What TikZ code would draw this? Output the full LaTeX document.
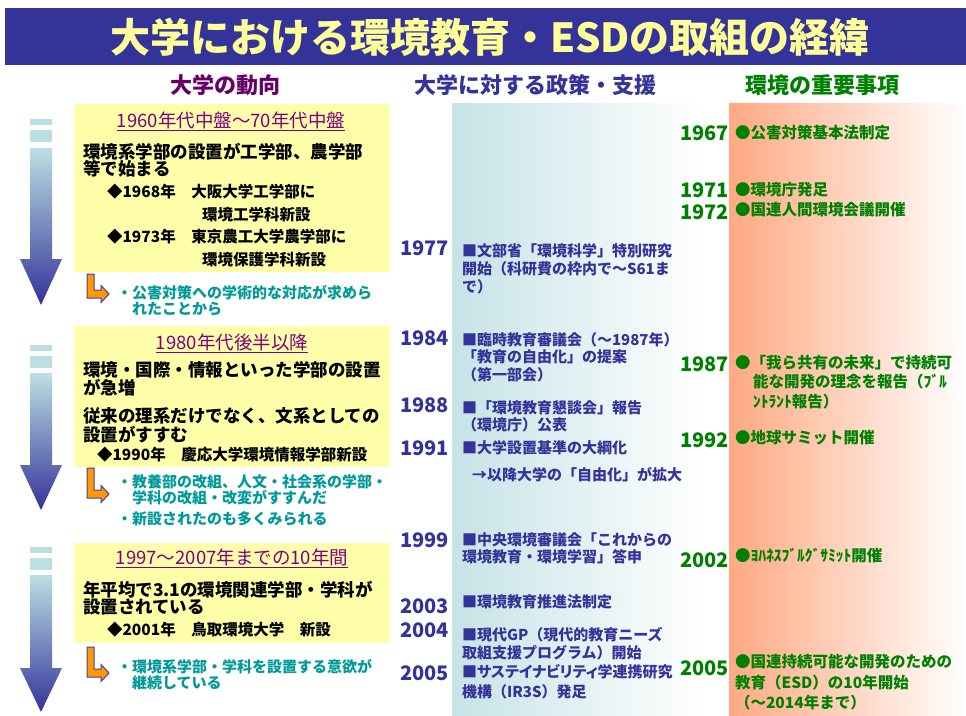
\documentclass[tikz,border=0pt]{standalone}
\usepackage{fontspec}
\setmainfont{Noto Sans CJK JP}
\usepackage{xcolor}
\usepackage{tikz}
\definecolor{titlebg}{HTML}{333399}
\definecolor{titletext}{HTML}{FFFF99}
\definecolor{trendpurple}{HTML}{660066}
\definecolor{periodpurple}{HTML}{800080}
\definecolor{policyblue}{HTML}{333399}
\definecolor{eventgreen}{HTML}{008000}
\definecolor{noteteal}{HTML}{009999}
\definecolor{boxyellow}{HTML}{FFFFAA}
\definecolor{policyshade}{HTML}{C6E3E6}
\definecolor{eventshade}{HTML}{FFA982}
\definecolor{arrowtop}{HTML}{BCDFE3}
\definecolor{arrowbot}{HTML}{333399}
\definecolor{turnorange}{HTML}{FF9900}
\definecolor{turnedge}{HTML}{4040A0}

\begin{document}
\begin{tikzpicture}[
  x=1pt,
  y=-1pt,
  every node/.style={inner sep=0pt, outer sep=0pt},
  banner/.style={text=titletext, font=\bfseries\fontsize{40}{40}\selectfont},
  colhead/.style={font=\bfseries\fontsize{22}{22}\selectfont},
  period/.style={text=periodpurple, font=\fontsize{18.5}{18.5}\selectfont},
  body/.style={anchor=north west, align=left, font=\bfseries\fontsize{17.5}{#1}\selectfont},
  body/.default=17,
  item/.style={anchor=north west, align=left, font=\bfseries\fontsize{15.5}{23}\selectfont},
  note/.style={anchor=north west, align=left, text=noteteal, font=\bfseries\fontsize{15}{#1}\selectfont},
  note/.default=16,
  year/.style={anchor=west, font=\bfseries\fontsize{20}{20}\selectfont},
  policy/.style={anchor=north west, align=left, text=policyblue, font=\bfseries\fontsize{15}{#1}\selectfont},
  policy/.default=18,
  event/.style={anchor=north west, align=left, text=eventgreen, font=\bfseries\fontsize{15.5}{#1}\selectfont},
  event/.default=19,
  yellowbox/.style={fill=boxyellow},
  dashbar/.style={fill=arrowtop},
  downarrow/.style={top color=arrowtop, bottom color=arrowbot},
  turn/.style={fill=turnorange, draw=turnedge, line width=1pt}
]
\useasboundingbox (0,0) rectangle (966,715);
\fill[titlebg] (5,8) rectangle (966,65);
\node[banner] (title) at (490,37) {大学における環境教育・ESDの取組の経緯};

\node[colhead, text=trendpurple] (headtrend) at (225,85) {大学の動向};
\node[colhead, text=policyblue] (headpolicy) at (535,85) {大学に対する政策・支援};
\node[colhead, text=eventgreen] (headevent) at (822,85) {環境の重要事項};

\shade[left color=policyshade, right color=white] (452,103) rectangle (702,715);
\shade[left color=eventshade, right color=white] (729,103) rectangle (966,715);

\fill[yellowbox] (74,104) rectangle (390,272);
\fill[yellowbox] (74,326) rectangle (390,467);
\fill[yellowbox] (74,543) rectangle (390,643);

\fill[dashbar] (30,119) rectangle (52,125);
\fill[dashbar] (30,130) rectangle (52,142);
\shade[downarrow] (30,148) -- (52,148) -- (52,259) -- (62,259) -- (41,305) -- (20,259) -- (30,259) -- cycle;
\fill[dashbar] (30,345) rectangle (52,351);
\fill[dashbar] (30,356) rectangle (52,368);
\shade[downarrow] (30,373) -- (52,373) -- (52,465) -- (62,465) -- (41,510) -- (20,465) -- (30,465) -- cycle;
\fill[dashbar] (30,547) rectangle (52,553);
\fill[dashbar] (30,558) rectangle (52,570);
\shade[downarrow] (30,575) -- (52,575) -- (52,668) -- (62,668) -- (41,712) -- (20,668) -- (30,668) -- cycle;

\draw[turn] (87,274) -- ++(7,0) -- ++(0,16) -- ++(7,0) -- ++(0,-4.5) -- ++(8,8.5) -- ++(-8,8.5) -- ++(0,-4.5) -- ++(-14,0) -- cycle;
\draw[turn] (87,468) -- ++(7,0) -- ++(0,22) -- ++(7,0) -- ++(0,-4.5) -- ++(8,8.5) -- ++(-8,8.5) -- ++(0,-4.5) -- ++(-14,0) -- cycle;
\draw[turn] (87,647) -- ++(7,0) -- ++(0,22) -- ++(7,0) -- ++(0,-4.5) -- ++(8,8.5) -- ++(-8,8.5) -- ++(0,-4.5) -- ++(-14,0) -- cycle;

\node[period] (p60) at (231,121) {\underline{1960年代中盤～70年代中盤}};
\node[body] (b60) at (83,143) {環境系学部の設置が工学部、農学部\\等で始まる};
\node[item] (i68) at (107,184) {◆1968年　大阪大学工学部に\\\hspace*{95pt}環境工学科新設};
\node[item] (i73) at (107,229) {◆1973年　東京農工大学農学部に\\\hspace*{95pt}環境保護学科新設};
\node[note] (n60) at (117,285.5) {・公害対策への学術的な対応が求めら\\\hspace*{1em}れたことから};

\node[period] (p80) at (232,343) {\underline{1980年代後半以降}};
\node[body] (b80a) at (83,361) {環境・国際・情報といった学部の設置\\が急増};
\node[body=15.5] (b80b) at (83,408) {従来の理系だけでなく、文系としての\\設置がすすむ};
\node[item] (i90) at (97,447) {◆1990年　慶応大学環境情報学部新設};
\node[note=12] (n80a) at (117,474.5) {・教養部の改組、人文・社会系の学部・\\\hspace*{1em}学科の改組・改変がすすんだ};
\node[note] (n80b) at (117,511.5) {・新設されたのも多くみられる};

\node[period] (p97) at (232,558) {\underline{1997～2007年までの10年間}};
\node[body] (b97) at (83,581) {年平均で3.1の環境関連学部・学科が\\設置されている};
\node[item] (i01) at (107,622) {◆2001年　鳥取環境大学　新設};
\node[note] (n97) at (117,659.5) {・環境系学部・学科を設置する意欲が\\\hspace*{1em}継続している};

\node[year, text=policyblue] (y77) at (400,248) {1977};
\node[policy] (s77) at (462,243.5) {■文部省「環境科学」特別研究\\開始（科研費の枠内で～S61ま\\で）};
\node[year, text=policyblue] (y84) at (400,338) {1984};
\node[policy=17.5] (s84) at (462,332.5) {■臨時教育審議会（～1987年）\\「教育の自由化」の提案\\（第一部会）};
\node[year, text=policyblue] (y88) at (400,405) {1988};
\node[policy=17] (s88) at (462,400.5) {■「環境教育懇談会」報告\\（環境庁）公表};
\node[year, text=policyblue] (y91) at (400,448) {1991};
\node[policy] (s91) at (462,440.5) {■大学設置基準の大綱化};
\node[policy] (s91b) at (472,467.5) {→以降大学の「自由化」が拡大};
\node[year, text=policyblue] (y99) at (400,540) {1999};
\node[policy=17] (s99) at (462,532.5) {■中央環境審議会「これからの\\環境教育・環境学習」答申};
\node[year, text=policyblue] (y03) at (400,606) {2003};
\node[policy] (s03) at (462,594.5) {■環境教育推進法制定};
\node[year, text=policyblue] (y04) at (400,630) {2004};
\node[policy] (s04) at (462,627.5) {■現代GP（現代的教育ニーズ\\取組支援プログラム）開始};
\node[year, text=policyblue] (y05) at (400,673) {2005};
\node[policy=20] (s05) at (462,664.5) {\addfontfeature{RawFeature=+palt}■サステイナビリティ学連携研究\\機構（IR3S）発足};

\node[year, text=eventgreen] (e67y) at (680,133) {1967};
\node[event] (e67) at (735,125) {●公害対策基本法制定};
\node[year, text=eventgreen] (e71y) at (680,190) {1971};
\node[event] (e71) at (735,182) {●環境庁発足};
\node[year, text=eventgreen] (e72y) at (680,212) {1972};
\node[event] (e72) at (735,202) {●国連人間環境会議開催};
\node[year, text=eventgreen] (e87y) at (680,364) {1987};
\node[event=19.5] (e87) at (735,355) {●「我ら共有の未来」で持続可\\\hspace*{18pt}能な開発の理念を報告（ﾌﾞﾙ\\\hspace*{18pt}ﾝﾄﾗﾝﾄ報告）};
\node[year, text=eventgreen] (e92y) at (680,440) {1992};
\node[event] (e92) at (735,430) {●地球サミット開催};
\node[year, text=eventgreen] (e02y) at (680,560) {2002};
\node[event] (e02) at (735,548) {●ﾖﾊﾈｽﾌﾞﾙｸﾞｻﾐｯﾄ開催};
\node[year, text=eventgreen] (e05y) at (680,668) {2005};
\node[event=20.5] (e05) at (735,654.5) {●国連持続可能な開発のための\\教育（ESD）の10年開始\\（～2014年まで）};
\end{tikzpicture}
\end{document}
